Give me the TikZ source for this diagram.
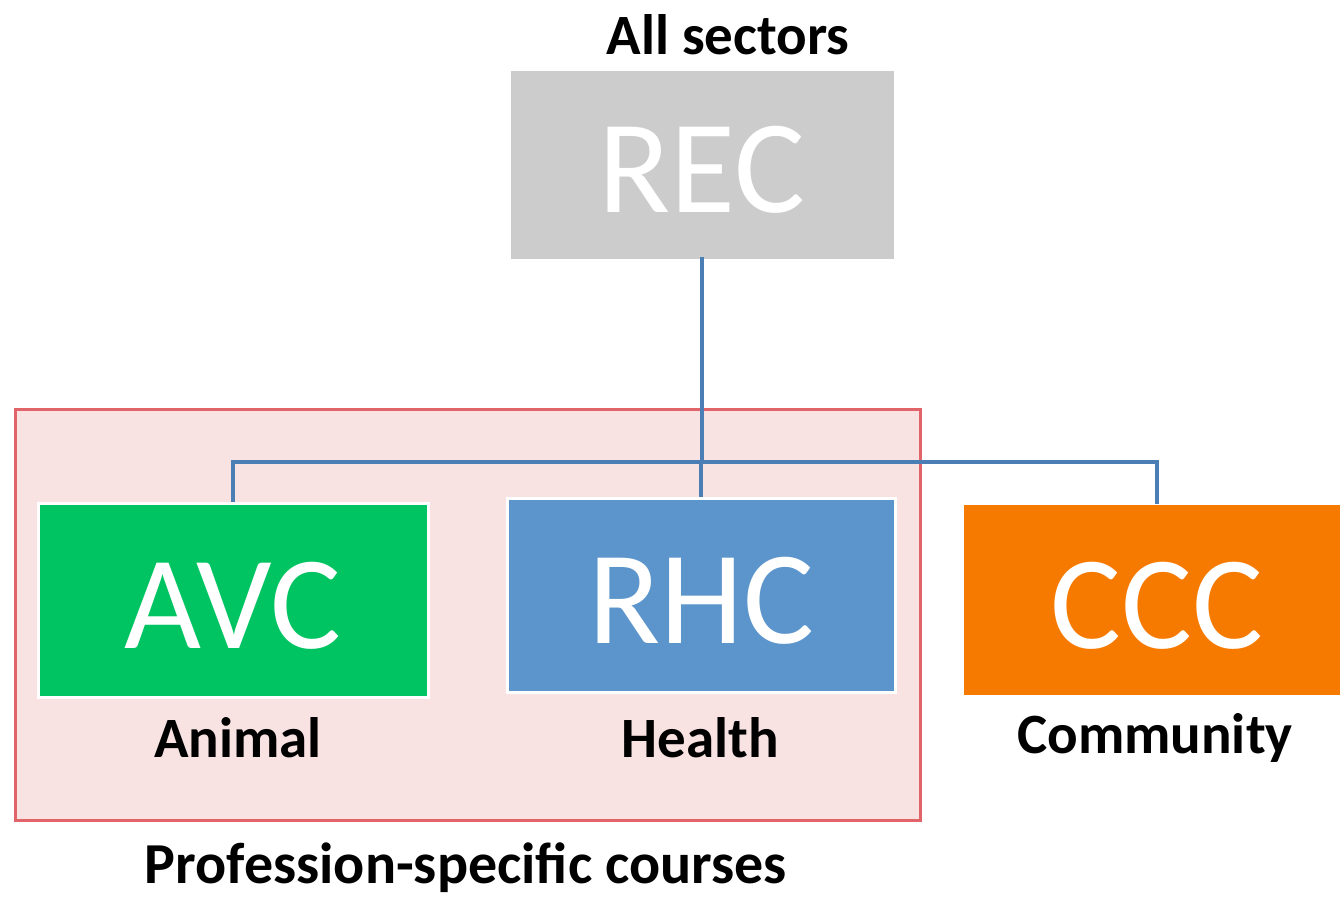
\documentclass[tikz,border=0pt]{standalone}
\usepackage{fontspec}
\setmainfont{Carlito}
\definecolor{recgray}{HTML}{CCCCCC}
\definecolor{linkblue}{HTML}{4A7EB5}
\definecolor{pinkfill}{HTML}{F8E2E2}
\definecolor{pinkline}{HTML}{E06468}
\definecolor{avcgreen}{HTML}{00C462}
\definecolor{rhcblue}{HTML}{5B95CB}
\definecolor{cccorange}{HTML}{F77A00}
\newcommand{\boxtxt}[1]{\raisebox{-48pt}[0pt][0pt]{#1}}
\begin{document}
\begin{tikzpicture}[x=1pt,y=-1pt,
  box/.style={draw=white,line width=3pt,inner sep=0pt,text=white,
    font=\fontsize{133}{133}\selectfont},
  lab/.style={font=\fontsize{57}{59}\selectfont\bfseries,text=black,inner sep=0pt},
  link/.style={draw=linkblue,line width=3.5pt}]
\useasboundingbox (0,0) rectangle (1340,898);
\fill[white] (0,0) rectangle (1340,898);
% group box
\draw[fill=pinkfill,draw=pinkline,line width=3pt] (15,409) rectangle (920,820);
% boxes
\node[box,fill=recgray,minimum width=386pt,minimum height=191pt] (rec) at (702,164.5) {\boxtxt{REC}};
\node[box,fill=avcgreen,minimum width=390pt,minimum height=194pt] (avc) at (233,600) {\boxtxt{AVC}};
\node[box,fill=rhcblue,minimum width=388pt,minimum height=194pt] (rhc) at (701,595) {\boxtxt{RHC}};
\node[box,draw=none,fill=cccorange,minimum width=400pt,minimum height=190pt] (ccc) at (1164,600) {};
\node[box,draw=none] (ccct) at (1157,600) {\boxtxt{CCC}};
% labels
\node[lab] (all) at (728,35) {All sectors};
\node[lab] (animal) at (238,738) {Animal};
\node[lab] (health) at (700,738) {Health};
\node[lab] (comm) at (1155,738) {Community};
\node[lab,font=\fontsize{58}{60}\selectfont\bfseries] (prof) at (466,868) {Profession-specific courses};
% connectors
\coordinate (j) at (702,462);
\draw[link] ([yshift=5pt]rec.south) -- (j);
\draw[link] (avc.north) |- (j);
\draw[link] (rhc.north) -- (rhc.north |- j);
\draw[link] ([xshift=-7pt]ccc.north) |- (j);
\end{tikzpicture}
\end{document}
